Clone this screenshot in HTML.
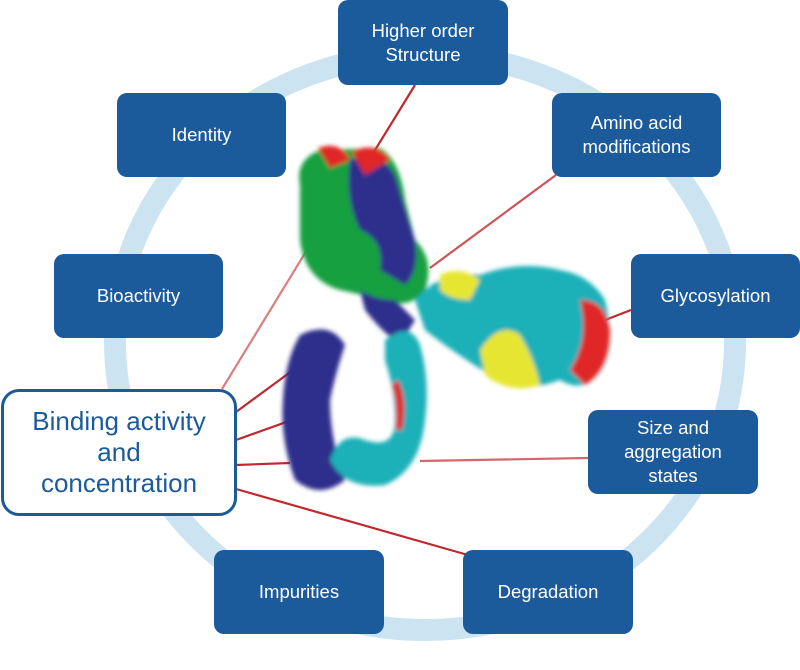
<!DOCTYPE html>
<html><head><meta charset="utf-8"><style>
body{margin:0;width:800px;height:670px;background:#fff;position:relative;overflow:hidden;font-family:"Liberation Sans",sans-serif}
.b{position:absolute;background:#1b5a9b;color:#fff;border-radius:10px;display:flex;align-items:center;justify-content:center;text-align:center;font-size:18.5px;line-height:24px}
svg{position:absolute;left:0;top:0}
</style></head><body>
<svg width="800" height="670">
<defs>
<filter id="f"><feGaussianBlur stdDeviation="2"/></filter>
</defs>
<ellipse cx="425" cy="342" rx="310" ry="288" fill="none" stroke="#cce4f1" stroke-width="22"/>
<g stroke="#c0282d" stroke-width="2.2" fill="none">
<line x1="415" y1="85" x2="372" y2="155"/>
<line x1="556" y1="175" x2="430" y2="268" stroke-opacity="0.8"/>
<line x1="631" y1="310" x2="600" y2="322"/>
<line x1="588" y1="458" x2="420" y2="461" stroke-opacity="0.7"/>
<line x1="468" y1="555" x2="236" y2="489"/>
<line x1="222" y1="389" x2="310" y2="245" stroke-opacity="0.6"/>
<line x1="236" y1="412" x2="300" y2="365"/>
<line x1="236" y1="440" x2="292" y2="420"/>
<line x1="236" y1="465" x2="290" y2="463"/>
</g>
<g filter="url(#f)">
<path d="M300 185 Q295 160 320 150 L380 148 Q400 160 405 200 L415 240 Q435 260 425 290 Q410 310 385 300 L340 290 Q305 280 300 240 Z" fill="#14a040"/>
<path d="M350 160 Q380 150 395 175 L415 240 Q420 270 405 285 L380 270 Q385 240 360 230 Q345 200 350 160Z" fill="#2e2e8c"/>
<path d="M318 148 Q340 140 350 160 L330 168 Z M352 152 Q375 140 390 160 L365 175Z" fill="#e02828"/>
<path d="M360 290 Q375 300 395 300 L415 320 L400 345 Q380 330 365 310Z" fill="#2e2e8c"/>
<path d="M300 335 Q330 320 345 345 Q335 375 330 400 Q330 440 345 480 Q320 500 295 480 Q280 440 283 400 Q285 360 300 335Z" fill="#2e2e8c"/>
<path d="M385 340 Q410 320 420 345 Q430 380 425 420 Q420 470 385 485 Q345 490 330 460 Q340 430 365 440 Q395 450 395 420 Q395 390 385 360Z" fill="#1fb0b8"/>
<path d="M398 380 Q408 400 402 430 L396 430 Q398 400 392 385Z" fill="#e02828"/>
<path d="M415 300 Q440 270 480 275 Q520 260 560 270 Q590 275 605 300 Q615 340 600 370 Q585 395 560 380 Q520 395 490 375 Q450 350 425 330 Z" fill="#1fb0b8"/>
<path d="M440 275 Q460 265 480 280 L470 300 Q450 300 440 290Z M480 350 Q500 320 520 335 Q535 360 540 385 Q510 395 485 375Z" fill="#e6e630"/>
<path d="M580 300 Q605 300 610 330 Q610 370 585 385 L570 370 Q590 340 580 300Z" fill="#e02828"/>
</g>
</svg>
<div class="b" style="left:338px;top:0;width:170px;height:85px">Higher order<br>Structure</div>
<div class="b" style="left:117px;top:93px;width:169px;height:84px">Identity</div>
<div class="b" style="left:552px;top:93px;width:169px;height:84px">Amino acid<br>modifications</div>
<div class="b" style="left:54px;top:254px;width:169px;height:84px">Bioactivity</div>
<div class="b" style="left:631px;top:254px;width:169px;height:84px">Glycosylation</div>
<div class="b" style="left:588px;top:410px;width:170px;height:84px">Size and<br>aggregation<br>states</div>
<div class="b" style="left:214px;top:550px;width:170px;height:84px">Impurities</div>
<div class="b" style="left:463px;top:550px;width:170px;height:84px">Degradation</div>
<div class="b" style="left:1px;top:389px;width:230px;height:121px;background:#fff;color:#1b5a9b;border:3px solid #1b5a9b;border-radius:18px;font-size:26px;line-height:31px">Binding activity<br>and<br>concentration</div>
</body></html>
